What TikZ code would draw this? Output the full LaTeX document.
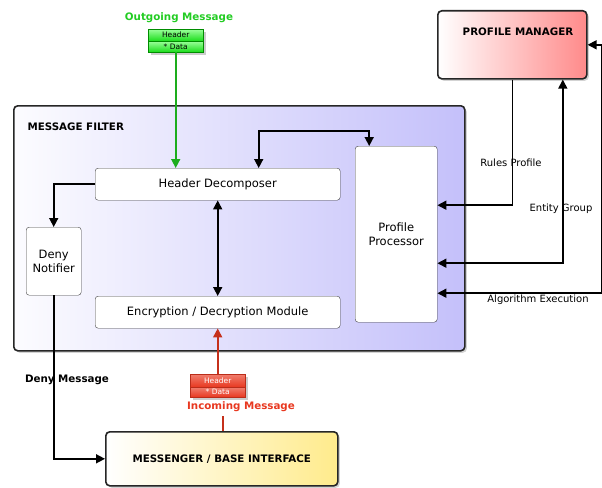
\documentclass[tikz,border=0pt]{standalone}
\usepackage{fontspec}
\setmainfont{DejaVu Sans}
\usetikzlibrary{arrows.meta,shadows}

\definecolor{filterblue}{RGB}{196,192,250}
\definecolor{managerred}{RGB}{255,138,138}
\definecolor{messengeryellow}{RGB}{255,235,140}
\definecolor{outgreen}{RGB}{34,204,34}
\definecolor{inred}{RGB}{232,56,32}

\tikzset{
  bigbox/.style={draw=black!85, line width=1.6pt, rounded corners=4pt, anchor=north west,
    drop shadow={opacity=0.35, shadow xshift=2pt, shadow yshift=-2pt}},
  module/.style={draw=black!75, fill=white, rounded corners=3pt, anchor=north west, align=center,
    font=\fontsize{11.5}{13.5}\selectfont},
  boldlbl/.style={font=\bfseries\fontsize{10.3}{12}\selectfont},
  plainlbl/.style={font=\fontsize{10}{12}\selectfont},
  msgpart/.style={anchor=north west, minimum width=55pt, inner sep=0pt, font=\fontsize{7.5}{8}\selectfont},
  link/.style={line width=1.6pt, -{Triangle[length=9pt,width=9pt]}},
  both/.style={line width=1.6pt, {Triangle[length=9pt,width=9pt]}-{Triangle[length=9pt,width=9pt]}},
}

\begin{document}
\begin{tikzpicture}[x=1pt,y=-1pt]
  \useasboundingbox (0,0) rectangle (602,487);

  % Outer boxes
  \node[bigbox, left color=white!95!filterblue, right color=filterblue,
    minimum width=451pt, minimum height=245pt] (filter) at (13,105) {};
  \node[boldlbl, anchor=west] (filterlbl) at (24,127) {MESSAGE FILTER};

  \node[bigbox, left color=white, right color=managerred,
    minimum width=149pt, minimum height=68pt] (pm) at (437,10) {};
  \node[boldlbl] (pmlbl) at (518,32) {PROFILE MANAGER};

  \node[bigbox, left color=white, right color=messengeryellow,
    minimum width=232pt, minimum height=54pt, boldlbl] (msgr) at (105,431) {MESSENGER / BASE INTERFACE};

  % Modules inside the filter
  \node[module, minimum width=245pt, minimum height=32pt] (hdec) at (95,168) {Header Decomposer};
  \node[module, minimum width=245pt, minimum height=32pt] (encr) at (95,296) {Encryption / Decryption Module};
  \node[module, minimum width=55pt, minimum height=68pt] (deny) at (26,227) {Deny\\Notifier};
  \node[module, minimum width=82pt, minimum height=176pt] (proc) at (355,146) {Profile\\Processor};

  % Outgoing message
  \node[boldlbl, text=outgreen] (outlbl) at (179,18) {Outgoing Message};
  \node[msgpart, minimum height=12pt, draw=green!55!black, top color=green!40, bottom color=green!85!black!90,
    drop shadow={opacity=0.4}] (outhdr) at (148,29) {Header};
  \node[msgpart, minimum height=11pt, draw=green!55!black, top color=green!40, bottom color=green!85!black!90,
    drop shadow={opacity=0.4}] (outdata) at (148,41) {* Data};

  % Incoming message
  \node[msgpart, minimum height=13pt, draw=inred!80!black, top color=inred!65, bottom color=inred,
    text=white, drop shadow={opacity=0.4}] (inhdr) at (190,374) {Header};
  \node[msgpart, minimum height=10pt, draw=inred!80!black, top color=inred!65, bottom color=inred,
    text=white, drop shadow={opacity=0.4}] (indata) at (190,387) {* Data};
  \node[boldlbl, text=inred] (inlbl) at (241,407) {Incoming Message};

  % Message flow
  \draw[link, outgreen!85!black] (outdata.south) -- (outdata.south |- hdec.north);
  \draw[line width=1.6pt, inred!85!black] ([xshift=1pt]msgr.north) -- ++(0,-15);
  \draw[link, inred!85!black] (inhdr.north) -- (encr.south);

  % Connections inside the filter
  \draw[link] (hdec.west) -| (deny.north);
  \draw[both] (hdec.south) -- (encr.north);
  \draw[both] ([xshift=41pt]hdec.north) |- ++(0,-37) -| ([xshift=-27pt]proc.north);

  % Profile manager links
  \draw[link] (pm.south) |- ([yshift=29pt]proc.east);
  \draw[both] ([yshift=-29pt]proc.east) -| ([xshift=50.5pt]pm.south);
  \draw[both] (pm.east) -- ++(14,0) |- ([yshift=-59pt]proc.east);
  \node[plainlbl] (rules) at (511,163) {Rules Profile};
  \node[plainlbl] (entity) at (561,209) {Entity Group};
  \node[plainlbl] (algo) at (538,300) {Algorithm Execution};

  % Deny message
  \draw[link] (deny.south) |- (msgr.west);
  \node[boldlbl] (denylbl) at (67,380) {Deny Message};
\end{tikzpicture}
\end{document}
